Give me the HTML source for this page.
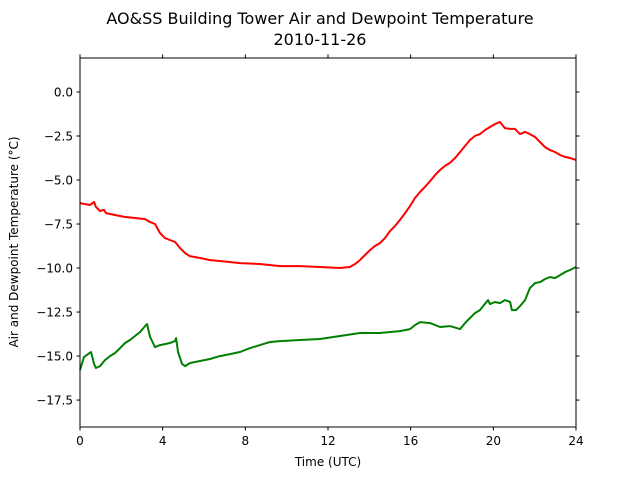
<!DOCTYPE html>
<html><head><meta charset="utf-8"><style>
html,body{margin:0;padding:0;background:#fff}
svg{display:block;font-family:"DejaVu Sans","Liberation Sans",sans-serif}
</style></head><body>
<svg id="chart" width="640" height="480" viewBox="0 0 640 480">
<text x="320" y="24" font-size="16" text-anchor="middle">AO&amp;SS Building Tower Air and Dewpoint Temperature</text>
<text x="320" y="45" font-size="16" text-anchor="middle">2010-11-26</text>
<g id="grid"></g>
<g id="series"></g>
<rect x="80" y="58" width="496" height="369" fill="none" stroke="#000" stroke-width="1"/>
<g id="axes"></g>
<text x="328" y="466" font-size="12" text-anchor="middle">Time (UTC)</text>
<text transform="translate(18,242) rotate(-90)" font-size="12" text-anchor="middle">Air and Dewpoint Temperature (°C)</text>
</svg>
<script>
const xTicks=[0,4,8,12,16,20,24];
const yTicks=[0,-2.5,-5,-7.5,-10,-12.5,-15,-17.5];
const yTickLabels=["0.0","−2.5","−5.0","−7.5","−10.0","−12.5","−15.0","−17.5"];
const airHours=[0,0.48,0.68,0.77,0.97,1.16,1.26,1.69,2.18,2.66,3.15,3.39,3.63,3.87,4.11,4.35,4.6,4.84,4.94,5.08,5.32,5.81,6.29,6.77,7.74,8.71,9.68,10.65,11.61,12.58,13.06,13.31,13.55,13.79,14.03,14.27,14.52,14.76,15,15.24,15.48,15.73,15.97,16.21,16.45,16.69,16.94,17.18,17.42,17.66,17.9,18.15,18.39,18.63,18.87,19.11,19.35,19.6,19.84,20.08,20.32,20.56,20.81,21.05,21.29,21.53,21.77,22.02,22.26,22.5,22.74,22.98,23.23,23.47,23.71,24];
const airTemp=[-6.31,-6.42,-6.25,-6.53,-6.76,-6.7,-6.88,-6.99,-7.1,-7.16,-7.22,-7.39,-7.5,-8.01,-8.3,-8.41,-8.52,-8.86,-8.98,-9.15,-9.32,-9.43,-9.55,-9.6,-9.72,-9.77,-9.89,-9.89,-9.94,-10,-9.94,-9.77,-9.55,-9.26,-8.98,-8.75,-8.58,-8.3,-7.9,-7.61,-7.27,-6.88,-6.48,-6.02,-5.68,-5.4,-5.06,-4.72,-4.43,-4.2,-4.03,-3.75,-3.41,-3.07,-2.73,-2.5,-2.39,-2.16,-1.99,-1.82,-1.7,-2.05,-2.1,-2.1,-2.39,-2.27,-2.39,-2.56,-2.84,-3.13,-3.3,-3.41,-3.58,-3.69,-3.75,-3.86];
const dewHours=[0,0.19,0.39,0.53,0.68,0.77,0.97,1.21,1.45,1.69,1.94,2.18,2.42,2.66,2.9,3.15,3.24,3.39,3.63,3.87,4.11,4.35,4.6,4.65,4.74,4.94,5.08,5.32,5.56,5.81,6.29,6.77,7.26,7.74,8.23,8.71,9.19,9.68,10.65,11.61,12.58,13.55,14.52,15.48,15.97,16.21,16.45,16.94,17.42,17.9,18.39,18.63,18.87,19.11,19.35,19.55,19.74,19.84,20.08,20.32,20.56,20.81,20.9,21.1,21.29,21.53,21.77,22.02,22.26,22.5,22.74,22.98,23.23,23.47,23.71,24];
const dewTemp=[-15.8,-15.06,-14.89,-14.77,-15.45,-15.68,-15.57,-15.23,-15,-14.83,-14.55,-14.26,-14.09,-13.86,-13.64,-13.3,-13.18,-13.92,-14.49,-14.38,-14.32,-14.26,-14.15,-13.98,-14.77,-15.45,-15.57,-15.4,-15.34,-15.28,-15.17,-15,-14.89,-14.77,-14.55,-14.38,-14.2,-14.15,-14.09,-14.03,-13.86,-13.69,-13.69,-13.58,-13.47,-13.24,-13.07,-13.13,-13.35,-13.3,-13.47,-13.13,-12.84,-12.56,-12.39,-12.1,-11.82,-12.05,-11.93,-11.99,-11.82,-11.93,-12.39,-12.39,-12.16,-11.82,-11.14,-10.85,-10.8,-10.63,-10.51,-10.57,-10.4,-10.23,-10.11,-9.94];

const X0=80,X1=576,Y0=427,Y1=58,xMin=0,xMax=24,yMin=-19.03,yMax=1.93;
const sx=v=>X0+(v-xMin)/(xMax-xMin)*(X1-X0);
const sy=v=>Y0-(v-yMin)/(yMax-yMin)*(Y0-Y1);
const NS="http://www.w3.org/2000/svg";
const mk=(t,a)=>{const e=document.createElementNS(NS,t);for(const k in a)e.setAttribute(k,a[k]);return e;};
const axes=document.getElementById('axes'), series=document.getElementById('series');
xTicks.forEach(v=>{
  const x=sx(v);
  const t=mk('line',{x1:x,x2:x,y1:Y0,y2:Y0+3.5,stroke:'#000'});
  
  
  axes.appendChild(t);
  const t2=mk('line',{x1:x,x2:x,y1:Y1,y2:Y1-3.5,stroke:'#000'});
  
  
  axes.appendChild(t2);
  const l=mk('text',{x:x,y:Y0+18,'font-size':12,'text-anchor':'middle'});
  
  
  l.textContent=String(v);axes.appendChild(l);
});
yTicks.forEach((v,i)=>{
  const y=sy(v);
  const t=mk('line',{x1:X0-3.5,x2:X0,y1:y,y2:y,stroke:'#000'});
  
  
  axes.appendChild(t);
  const t2=mk('line',{x1:X1,x2:X1+3.5,y1:y,y2:y,stroke:'#000'});
  
  
  axes.appendChild(t2);
  const l=mk('text',{x:X0-7,y:y+4.5,'font-size':12,'text-anchor':'end'});
  
  
  l.textContent=yTickLabels[i];axes.appendChild(l);
});
function line(hs,ts,color,name){
  const d=hs.map((h,i)=>(i?'L':'M')+sx(h).toFixed(1)+','+sy(ts[i]).toFixed(1)).join('');
  const p=mk('path',{d:d,fill:'none',stroke:color,'stroke-width':2,'stroke-linejoin':'round'});
  
  
  series.appendChild(p);
}
line(airHours,airTemp,'#ff0000','air-temperature-line');
line(dewHours,dewTemp,'#008000','dewpoint-temperature-line');
</script>
</body></html>
